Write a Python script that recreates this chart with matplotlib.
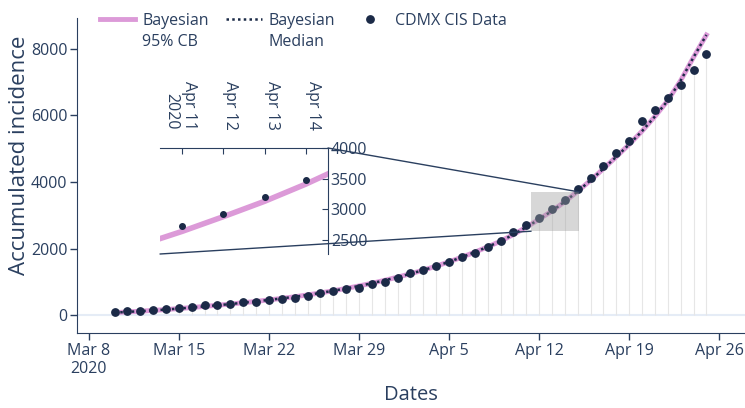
import matplotlib
matplotlib.use("Agg")
import matplotlib.pyplot as plt
import matplotlib.dates as mdates
import matplotlib.transforms as mtransforms
import numpy as np
from matplotlib.lines import Line2D
from matplotlib.patches import Rectangle, ConnectionPatch

# daily accumulated cases, CDMX, Mar 10 - Apr 25 2020
dates = np.arange("2020-03-10", "2020-04-26", dtype="datetime64[D]")
cases = [80, 110, 120, 140, 170, 200, 250, 290, 310, 340, 380, 400, 440,
         480, 520, 580, 660, 720, 770, 820, 920, 1000,
         1120, 1250, 1350, 1460, 1600, 1730, 1880, 2050, 2220, 2510, 2720,
         2930, 3200, 3470, 3800, 4130, 4490, 4860, 5220, 5820, 6160, 6520,
         6920, 7380, 7850]
median = [70, 95, 115, 140, 165, 195, 225, 260, 295, 330, 370, 410, 455,
          500, 550, 605, 665, 730, 800, 875, 955, 1045,
          1140, 1240, 1350, 1470, 1600, 1740, 1890, 2050, 2220, 2420, 2640,
          2880, 3130, 3410, 3720, 4050, 4400, 4760, 5130, 5530, 5970, 6450,
          7050, 7750, 8420]

tick_dates = np.array(["2020-03-08", "2020-03-15", "2020-03-22", "2020-03-29",
                       "2020-04-05", "2020-04-12", "2020-04-19", "2020-04-26"],
                      dtype="datetime64[D]")
tick_labels = ["Mar 8\n2020", "Mar 15", "Mar 22", "Mar 29",
               "Apr 5", "Apr 12", "Apr 19", "Apr 26"]
y_ticks = [0, 2000, 4000, 6000, 8000]

inset_dates = np.array(["2020-04-11", "2020-04-12", "2020-04-13", "2020-04-14"],
                       dtype="datetime64[D]")
inset_labels = ["Apr 11\n2020", "Apr 12", "Apr 13", "Apr 14"]
inset_yticks = [2500, 3000, 3500, 4000]

legend_labels = ["Bayesian\n95% CB", "Bayesian\nMedian", "CDMX CIS Data"]

TXT = "#2a3f5f"
PINK = "#dc9ad8"
DOT = "#1b2a47"
DOTTED = (0, (1, 1.3))

plt.rcParams["font.family"] = ["Open Sans", "DejaVu Sans"]

fig = plt.figure(figsize=(7.45, 4.08), dpi=100)
ax = fig.add_axes([77 / 745, 75 / 408, 668 / 745, 315 / 408])

ax.axhline(0, color="#e5ecf6", lw=1.5, zorder=0)
ax.vlines(dates, 0, cases, color="#e6e6e6", lw=0.8, zorder=1)
ax.plot(dates, median, color=PINK, lw=3.5, zorder=2)
ax.plot(dates, median, color=DOT, lw=1.8, ls=DOTTED, zorder=3)
ax.plot(dates, cases, "o", color=DOT, ms=5.3, zorder=4)

ax.set_xlim(np.datetime64("2020-03-07T02"), np.datetime64("2020-04-28T00"))
ax.set_ylim(-540, 8930)
ax.set_xticks(tick_dates)
ax.set_xticklabels(tick_labels)
ax.set_yticks(y_ticks)
for s in ["top", "right"]:
    ax.spines[s].set_visible(False)
for s in ["left", "bottom"]:
    ax.spines[s].set_color(TXT)
ax.tick_params(length=5, width=1, color=TXT, labelcolor=TXT, labelsize=11.5, pad=2)
ax.set_xlabel("Dates", fontsize=14.5, color=TXT)
ax.xaxis.set_label_coords(0.5, (333 - 385) / 315)
ax.set_ylabel("Accumulated incidence", fontsize=16, color=TXT)
ax.yaxis.set_label_coords((30 - 77) / 668, (333 - 155) / 315)

# zoom window
box_x0 = mdates.date2num(np.datetime64("2020-04-11T09"))
box_x1 = mdates.date2num(np.datetime64("2020-04-15T03"))
box_lo, box_hi = 2520, 3700
ax.add_patch(Rectangle((box_x0, box_lo), box_x1 - box_x0, box_hi - box_lo,
                       facecolor="#a0a0a0", alpha=0.42, lw=0, zorder=5))

# inset
axi = fig.add_axes([160 / 745, 154 / 408, 168 / 745, 106 / 408])
axi.patch.set_alpha(0)
axi.plot(dates, median, color=PINK, lw=4)
axi.plot(dates, cases, "o", color=DOT, ms=4)
axi.set_xlim(np.datetime64("2020-04-10T11"), np.datetime64("2020-04-14T13"))
axi.set_ylim(2270, 4000)
for s in ["left", "bottom"]:
    axi.spines[s].set_visible(False)
for s in ["top", "right"]:
    axi.spines[s].set_color(TXT)
axi.xaxis.tick_top()
axi.yaxis.tick_right()
axi.set_xticks(inset_dates)
axi.set_xticklabels(inset_labels, rotation=-90, rotation_mode="anchor",
                    ha="right", va="baseline")
axi.set_yticks(inset_yticks)
axi.tick_params(direction="in", length=4, color=TXT, labelcolor=TXT, labelsize=11.5)
axi.tick_params(axis="x", pad=13)
axi.tick_params(axis="y", pad=2)
# nudge labels right of their ticks; the two-line one keeps its first line there
for i, tick in enumerate(axi.xaxis.get_major_ticks()):
    dx = -13 if i == 0 else 3
    tick.label2.set_transform(tick.label2.get_transform() +
                              mtransforms.ScaledTranslation(dx / 100, 0, fig.dpi_scale_trans))

for xa, xb in [((0, 0), (box_x0, box_lo)), ((1, 1), (box_x1, box_hi))]:
    fig.add_artist(ConnectionPatch(xyA=xa, coordsA=axi.transAxes,
                                   xyB=xb, coordsB=ax.transData,
                                   color=TXT, lw=1))

handles = [Line2D([], [], color=PINK, lw=3.5),
           Line2D([], [], color=DOT, lw=1.8, ls=DOTTED),
           Line2D([], [], color=DOT, marker="o", ls="none", ms=5.3)]
leg = fig.legend(handles, legend_labels, loc="upper left",
                 bbox_to_anchor=(100 / 745, 1 - 13 / 408), ncol=3, frameon=False,
                 fontsize=11.5, handlelength=2.2, handletextpad=0.45,
                 columnspacing=1.1, borderpad=0, borderaxespad=0, labelcolor=TXT)
for t in leg.get_texts():
    t.set_linespacing(1.4)
# keep handles level with the first line of each label
leg._legend_handle_box.align = "top"
for col in leg._legend_handle_box.get_children():
    for item in col.get_children():
        item.align = "top"

fig.savefig("out.png", dpi=100)
